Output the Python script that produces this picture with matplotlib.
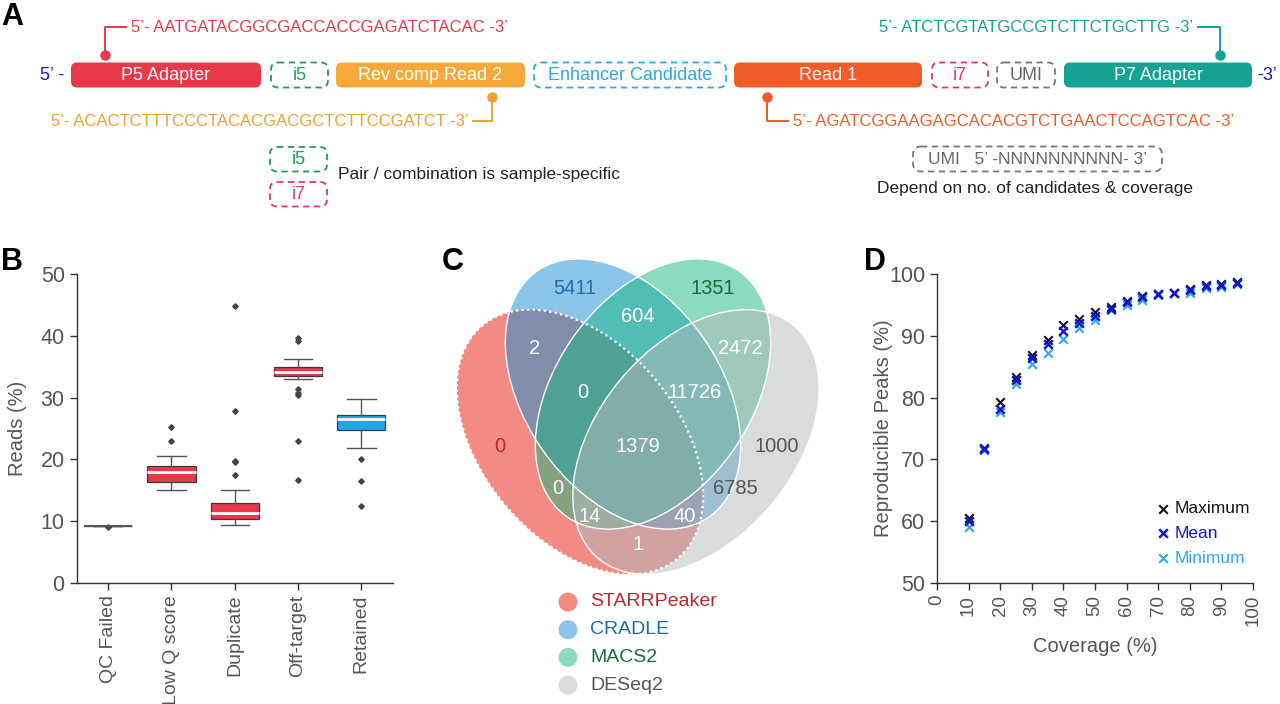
import matplotlib
matplotlib.use('Agg')
import matplotlib.pyplot as plt
from matplotlib.patches import Ellipse, FancyBboxPatch, Circle
from matplotlib.lines import Line2D

plt.rcParams['font.family'] = ['Liberation Sans', 'DejaVu Sans']

# ---------------- Panel A content ----------------
seq_p5 = "5\u2019- AATGATACGGCGACCACCGAGATCTACAC -3\u2019"
seq_p7 = "5\u2019- ATCTCGTATGCCGTCTTCTGCTTG -3\u2019"
seq_read2 = "5\u2019- ACACTCTTTCCCTACACGACGCTCTTCCGATCT -3\u2019"
seq_read1 = "5\u2019- AGATCGGAAGAGCACACGTCTGAACTCCAGTCAC -3\u2019"
construct_labels = ["P5 Adapter", "i5", "Rev comp Read 2", "Enhancer Candidate",
                    "Read 1", "i7", "UMI", "P7 Adapter"]

# ---------------- Panel B data ----------------
box_categories = ["QC Failed", "Low Q score", "Duplicate", "Off-target", "Retained"]
box_q1 = [9.2, 16.4, 10.3, 33.5, 24.7]
box_med = [9.2, 17.9, 11.3, 34.2, 26.5]
box_q3 = [9.2, 18.9, 12.9, 35.0, 27.2]
box_whislo = [9.2, 15.0, 9.4, 33.0, 21.8]
box_whishi = [9.2, 20.6, 15.0, 36.2, 29.8]
box_fliers = [[9.0],
              [23.0, 25.2],
              [17.4, 19.5, 19.8, 27.9, 44.8],
              [16.6, 23.0, 30.5, 30.8, 31.4, 39.2, 39.7],
              [12.5, 16.5, 20.1]]

# ---------------- Panel C data ----------------
venn_sets = ["STARRPeaker", "CRADLE", "MACS2", "DESeq2"]
venn_region_keys = ["S", "C", "M", "D", "SC", "CM", "MD", "SM", "CD", "SD",
                    "SCM", "CMD", "SCD", "SMD", "SCMD"]
venn_region_counts = [0, 5411, 1351, 1000, 2, 604, 2472, 0, 6785, 1,
                      0, 11726, 40, 14, 1379]

# ---------------- Panel D data ----------------
coverage = [10, 15, 20, 25, 30, 35, 40, 45, 50, 55, 60, 65, 70, 75, 80, 85, 90, 95]
peaks_max = [60.5, 71.9, 79.3, 83.4, 86.9, 89.4, 91.8, 92.7, 93.9, 94.6, 95.6, 96.4, 96.8, 97.0, 97.6, 98.2, 98.4, 98.7]
peaks_mean = [60.1, 71.7, 78.2, 82.9, 86.4, 88.7, 90.7, 92.0, 93.2, 94.4, 95.4, 96.2, 96.7, 97.0, 97.4, 98.0, 98.2, 98.6]
peaks_min = [59.0, 71.6, 77.6, 82.2, 85.5, 87.2, 89.5, 91.3, 92.6, 94.1, 95.0, 95.8, 96.6, 96.9, 97.0, 97.7, 97.9, 98.4]

W, H = 1280, 704
fig = plt.figure(figsize=(W / 100, H / 100), dpi=100)
fig.patch.set_facecolor('white')

# overlay axes in pixel coordinates for panels A and C
ov = fig.add_axes([0, 0, 1, 1])
ov.set_xlim(0, W)
ov.set_ylim(H, 0)
ov.axis('off')
ov.patch.set_alpha(0)

BLUE_END = '#1a1ad0'
RED = '#e8394a'
ORANGE = '#f5a93b'
CYAN = '#29abe2'
READ1 = '#f15a29'
PINK = '#e2337a'
GREY = '#777777'
TEAL = '#16a396'
GREEN = '#1e9e56'

# panel letters
for letter, (x, y) in zip("ABCD", [(12, 17), (12, 262), (453, 262), (875, 262)]):
    ov.text(x, y, letter, fontsize=22, fontweight='bold', ha='center', va='center', color='black')

ROW_Y0, ROW_H = 62.5, 25
ROW_YC = ROW_Y0 + ROW_H / 2

box_spans = [(71, 261), (271, 328), (336, 525), (534, 726), (734, 922), (932, 988), (997, 1055), (1064, 1252)]
box_colors = [RED, GREEN, ORANGE, CYAN, READ1, PINK, GREY, TEAL]
box_dashed = [False, True, False, True, False, True, True, False]

for (x0, x1), col, dashed, lab in zip(box_spans, box_colors, box_dashed, construct_labels):
    if dashed:
        p = FancyBboxPatch((x0, ROW_Y0), x1 - x0, ROW_H,
                           boxstyle='round,pad=0,rounding_size=7',
                           fc='none', ec=col, lw=1.3, ls=(0, (3.5, 2.5)))
        tcol = col if col != GREY else '#666666'
    else:
        p = FancyBboxPatch((x0, ROW_Y0), x1 - x0, ROW_H,
                           boxstyle='round,pad=0,rounding_size=6',
                           fc=col, ec='none')
        tcol = 'white'
    ov.add_patch(p)
    ov.text((x0 + x1) / 2, ROW_YC + 0.5, lab, color=tcol, fontsize=13, ha='center', va='center')

ov.text(40, ROW_YC, "5\u2019 -", color=BLUE_END, fontsize=13, ha='left', va='center')
ov.text(1257, ROW_YC, "-3\u2019", color=BLUE_END, fontsize=13, ha='left', va='center')

# sequences with connectors
def connector(xs, ys, col):
    ov.add_line(Line2D(xs, ys, color=col, lw=1.4, solid_capstyle='butt'))
    ov.plot([xs[0]], [ys[0]], 'o', color=col, ms=6.5)

connector([105, 105, 127], [55, 27, 27], RED)
ov.text(131, 27, seq_p5, color=RED, fontsize=12, ha='left', va='center')

connector([1220, 1220, 1197], [55, 27, 27], TEAL)
ov.text(1193, 27, seq_p7, color=TEAL, fontsize=12, ha='right', va='center')

connector([492, 492, 472], [97, 121, 121], '#f0a030')
ov.text(469, 121, seq_read2, color='#f0a030', fontsize=12, ha='right', va='center')

connector([767, 767, 789], [97, 121, 121], READ1)
ov.text(793, 121, seq_read1, color=READ1, fontsize=12, ha='left', va='center')

# legend-like notes
for (y0, col, lab) in [(147, GREEN, 'i5'), (182, PINK, 'i7')]:
    ov.add_patch(FancyBboxPatch((270, y0), 57, 24.5, boxstyle='round,pad=0,rounding_size=7',
                                fc='none', ec=col, lw=1.3, ls=(0, (3.5, 2.5))))
    ov.text(298.5, y0 + 12.5, lab, color=col, fontsize=13, ha='center', va='center')
ov.text(338, 174, "Pair / combination is sample-specific", color='#222222', fontsize=12.5,
        ha='left', va='center')

ov.add_patch(FancyBboxPatch((913, 146.5), 249, 25, boxstyle='round,pad=0,rounding_size=8',
                            fc='none', ec='#777777', lw=1.3, ls=(0, (3.5, 2.5))))
ov.text(1037.5, 159, "UMI   5\u2019 -NNNNNNNNNN- 3\u2019", color='#666666', fontsize=12.5,
        ha='center', va='center')
ov.text(1035, 189, "Depend on no. of candidates & coverage", color='#222222', fontsize=12.5,
        ha='center', va='center')

# ---------------- Panel C: Venn ----------------
set_colors = ['#e5190a', '#198dd5', '#1bb781', '#b5b9bd']
set_text_colors = ['#c0272d', '#1d6ca8', '#1b6b3a', '#555555']
# angles are in the (y-down) pixel frame of the overlay axes
ell_geom = [((580, 442), 304, 196, 50),
            ((623, 394), 300, 196, 55),
            ((653, 394), 300, 196, -55),
            ((696, 442), 304, 196, -50)]
for (c, w, h, ang), col in zip(ell_geom, set_colors):
    ov.add_patch(Ellipse(c, w, h, angle=ang, fc=col, ec='none', alpha=0.5))
for i, (c, w, h, ang) in enumerate(ell_geom):
    if i == 0:
        ov.add_patch(Ellipse(c, w, h, angle=ang, fc='none', ec='white', lw=1.6, ls=(0, (1, 1.5))))
    else:
        ov.add_patch(Ellipse(c, w, h, angle=ang, fc='none', ec='white', lw=1.0))

region_pos = {"S": (500, 447), "C": (575, 288), "M": (713, 288), "D": (777, 447),
              "SC": (535, 348), "CM": (638, 316), "MD": (740, 348), "SM": (558, 488),
              "CD": (735, 488), "SD": (638, 545), "SCM": (583, 392), "CMD": (695, 392),
              "SCD": (685, 517), "SMD": (590, 517), "SCMD": (638, 447)}
region_color = {"S": set_text_colors[0], "C": set_text_colors[1], "M": set_text_colors[2],
                "D": set_text_colors[3], "CD": '#555555'}
for key, cnt in zip(venn_region_keys, venn_region_counts):
    x, y = region_pos[key]
    ov.text(x, y, f"{cnt}", color=region_color.get(key, 'white'), fontsize=14.5,
            ha='center', va='center')

for i, (name, col, tcol) in enumerate(zip(venn_sets, set_colors, set_text_colors)):
    y = 602 + i * 27.7
    ov.add_patch(Circle((568, y), 9.5, fc=col, ec='none', alpha=0.5))
    ov.text(590, y, name, color=tcol, fontsize=14, ha='left', va='center')

# ---------------- Panel B: boxplot ----------------
TXT = '#555555'
SP = '#333333'
axB = fig.add_axes([76.5 / W, 1 - 583 / H, 316.5 / W, 309 / H])
stats = []
for lab, q1, md, q3, lo, hi, fl in zip(box_categories, box_q1, box_med, box_q3,
                                       box_whislo, box_whishi, box_fliers):
    stats.append(dict(label=lab, q1=q1, med=md, q3=q3, whislo=lo, whishi=hi, fliers=fl))
bp = axB.bxp(stats, positions=range(len(stats)), widths=0.76, patch_artist=True,
             capwidths=0.45,
             boxprops=dict(edgecolor='#3a3a3a', linewidth=0.9),
             medianprops=dict(color='white', linewidth=2),
             whiskerprops=dict(color='#555555', linewidth=1),
             capprops=dict(color='#555555', linewidth=1),
             flierprops=dict(marker='D', markersize=2.8, markerfacecolor='#444444',
                             markeredgecolor='#444444'))
box_fill = ['#e8394a', '#e8394a', '#e8394a', '#e8394a', '#1fa8e8']
for patch, fc in zip(bp['boxes'], box_fill):
    patch.set_facecolor(fc)
# a box with zero spread shows as a single dark line
bp['medians'][0].set_color('#555555')
bp['medians'][0].set_linewidth(1.5)
axB.set_xlim(-0.5, 4.5)
axB.set_ylim(0, 50)
axB.set_yticks([0, 10, 20, 30, 40, 50])
axB.set_xticks(range(len(box_categories)))
axB.set_xticklabels(box_categories, rotation=90, fontsize=14, color=TXT)
axB.tick_params(axis='y', labelsize=15.5, labelcolor=TXT)
axB.set_ylabel("Reads (%)", fontsize=14.5, color=TXT)
axB.yaxis.set_label_coords(-0.155, 0.5)

# ---------------- Panel D: scatter ----------------
axD = fig.add_axes([937 / W, 1 - 583 / H, 316 / W, 309 / H])
axD.scatter(coverage, peaks_min, marker='x', s=38, linewidths=1.5, color='#2aaae8', label='Minimum', zorder=3)
axD.scatter(coverage, peaks_max, marker='x', s=38, linewidths=1.5, color='#151515', label='Maximum', zorder=4)
axD.scatter(coverage, peaks_mean, marker='x', s=38, linewidths=1.8, color='#1515d6', label='Mean', zorder=5)
axD.set_xlim(0, 100)
axD.set_ylim(50, 100)
axD.set_xticks(range(0, 101, 10))
axD.set_yticks(range(50, 101, 10))
axD.tick_params(axis='x', labelsize=13.5, labelcolor=TXT, labelrotation=90)
axD.tick_params(axis='y', labelsize=15.5, labelcolor=TXT)
axD.set_xlabel("Coverage (%)", fontsize=14.5, color=TXT)
axD.set_ylabel("Reproducible Peaks (%)", fontsize=14.5, color=TXT)
axD.yaxis.set_label_coords(-0.14, 0.5)
axD.xaxis.set_label_coords(0.5, -0.175)
h, l = axD.get_legend_handles_labels()
order = [l.index('Maximum'), l.index('Mean'), l.index('Minimum')]
leg = axD.legend([h[i] for i in order], [l[i] for i in order], loc='upper left',
                 bbox_to_anchor=(0.7, 0.265), frameon=False, fontsize=12.5,
                 handlelength=0.6, handletextpad=0.35, labelspacing=0.55,
                 borderpad=0, borderaxespad=0,
                 labelcolor=['#151515', '#1515d6', '#2aaae8'])

for ax in (axB, axD):
    for s in ('top', 'right'):
        ax.spines[s].set_visible(False)
    for s in ('left', 'bottom'):
        ax.spines[s].set_color(SP)
        ax.spines[s].set_linewidth(1)
    ax.tick_params(direction='out', length=5, width=1, color=SP)

fig.savefig('out.png', dpi=100)
